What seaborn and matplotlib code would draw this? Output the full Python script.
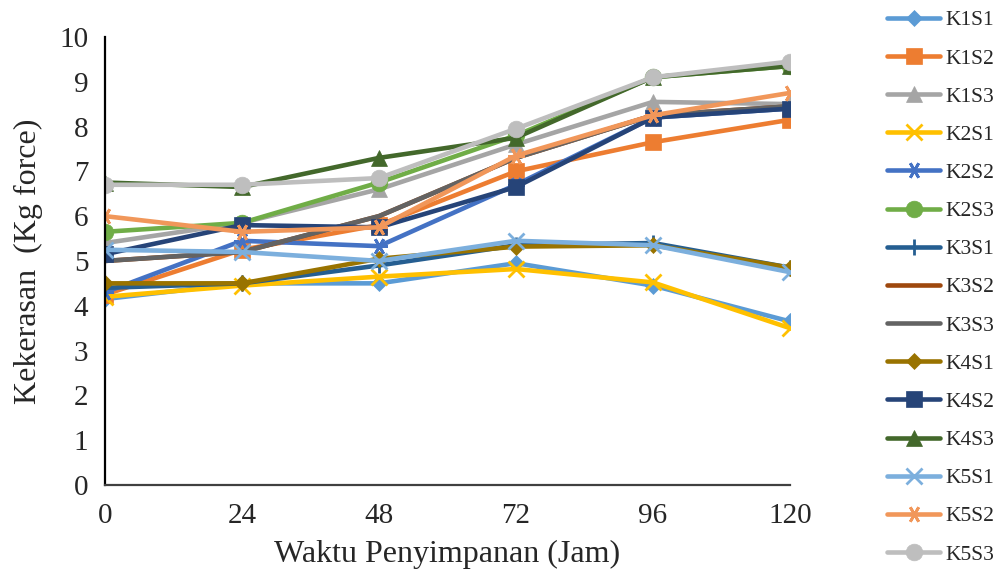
import matplotlib
matplotlib.use("Agg")
import matplotlib.pyplot as plt
import seaborn as sns
import pandas as pd

# Storage time (hours) and hardness per treatment
jam = [0, 24, 48, 72, 96, 120]

K1S1 = [4.15, 4.50, 4.50, 4.95, 4.45, 3.65]
K1S2 = [4.25, 5.25, 5.80, 7.00, 7.65, 8.15]
K1S3 = [5.40, 5.85, 6.60, 7.60, 8.55, 8.50]
K2S1 = [4.20, 4.45, 4.65, 4.82, 4.52, 3.50]
K2S2 = [4.30, 5.45, 5.33, 6.70, 8.20, 8.40]
K2S3 = [5.65, 5.85, 6.75, 7.80, 9.10, 9.35]
K3S1 = [4.40, 4.50, 4.90, 5.35, 5.40, 4.85]
K3S2 = [5.00, 5.20, 6.00, 7.30, 8.25, 8.45]
K3S3 = [5.00, 5.20, 6.00, 7.30, 8.25, 8.45]
K4S1 = [4.50, 4.50, 5.05, 5.32, 5.35, 4.85]
K4S2 = [5.15, 5.80, 5.75, 6.65, 8.20, 8.40]
K4S3 = [6.75, 6.65, 7.30, 7.75, 9.10, 9.35]
K5S1 = [5.25, 5.20, 5.00, 5.45, 5.35, 4.75]
K5S2 = [6.00, 5.65, 5.75, 7.35, 8.25, 8.75]
K5S3 = [6.70, 6.70, 6.85, 7.95, 9.10, 9.45]

names = ["K1S1", "K1S2", "K1S3", "K2S1", "K2S2", "K2S3", "K3S1", "K3S2",
         "K3S3", "K4S1", "K4S2", "K4S3", "K5S1", "K5S2", "K5S3"]
values = [K1S1, K1S2, K1S3, K2S1, K2S2, K2S3, K3S1, K3S2,
          K3S3, K4S1, K4S2, K4S3, K5S1, K5S2, K5S3]

colors = ["#5B9BD5", "#ED7D31", "#A5A5A5", "#FFC000", "#4472C4", "#70AD47",
          "#255E91", "#9E480E", "#636363", "#997300", "#264478", "#43682B",
          "#7CAFDD", "#F1975A", "#BEBEBE"]
asterisk = (6, 2, 90)
markers = ["D", "s", "^", "x", asterisk, "o", "|", None, None, "D", "s", "^",
           "x", asterisk, "o"]
msizes = [8, 11, 11, 11, 12, 12, 12, 0, 0, 8, 11, 11, 11, 12, 12]

df = pd.DataFrame(
    [(n, t, v) for n, vals in zip(names, values) for t, v in zip(jam, vals)],
    columns=["series", "jam", "nilai"],
)

sns.set_style("white")
plt.rcParams["font.family"] = ["Liberation Serif", "DejaVu Serif"]

fig = plt.figure(figsize=(10, 5.73), dpi=100)
ax = fig.add_axes([0.105, 0.1536, 0.685, 0.782])

for n, c, m, ms in zip(names, colors, markers, msizes):
    sub = df[df["series"] == n]
    sns.lineplot(data=sub, x="jam", y="nilai", ax=ax, color=c, linewidth=3.3,
                 marker=m, markersize=ms, markeredgecolor=c,
                 markeredgewidth=2.0 if m in ("x", "|", asterisk) else 0.5,
                 label=n, legend=False)

ax.set_xlim(0, 120)
ax.set_ylim(0, 10)
ax.set_xticks(jam)
ax.set_yticks(range(0, 11))
ax.tick_params(axis="both", labelsize=21, length=0)
ax.tick_params(axis="x", pad=13)
ax.tick_params(axis="y", pad=12)
ax.set_xlabel("Waktu Penyimpanan (Jam)", fontsize=23, labelpad=8)
ax.set_ylabel("Kekerasan  (Kg force)", fontsize=23, labelpad=12)

for side in ("top", "right"):
    ax.spines[side].set_visible(False)
ax.spines["left"].set_color("black")
ax.spines["left"].set_linewidth(1.6)
ax.spines["bottom"].set_color("#404040")
ax.spines["bottom"].set_linewidth(1.6)

handles, labels = ax.get_legend_handles_labels()
fig.legend(handles, labels, loc="upper left", bbox_to_anchor=(0.878, 0.997),
           frameon=False, fontsize=15.5, handlelength=2.5, numpoints=1,
           labelspacing=0.84, handletextpad=0.25, borderaxespad=0)

fig.savefig("out.png", dpi=100)
